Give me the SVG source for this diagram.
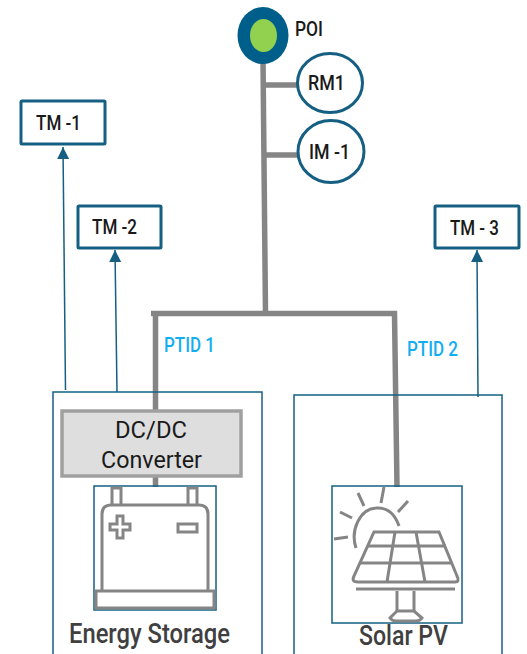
<svg xmlns="http://www.w3.org/2000/svg" width="527" height="654" viewBox="0 0 527 654">
<style>
text{font-family:Roboto,"Liberation Sans",sans-serif}
.bus{fill:none;stroke:#858585;stroke-width:5.5}
.tm rect{fill:#fff;stroke:#156082;stroke-width:3}
.tm text,.m text{font-size:21px;font-weight:500;fill:#1a1a1a}
.m .o{fill:#fff;stroke:#156082;stroke-width:3}
.sig{fill:none;stroke:#156082;stroke-width:1.5;marker-end:url(#a)}
.box{fill:none;stroke:#156082;stroke-width:1.5}
.ptid{font-size:20px;font-weight:500;fill:#12aef0}
.ic{fill:none;stroke:#858585;stroke-width:3}
.lbl{font-size:27px;font-weight:500;fill:#404040}
.dc{font-size:23px;fill:#1a1a1a}
</style>
<defs><marker id="a" markerUnits="userSpaceOnUse" markerWidth="13" markerHeight="13" refX="12" refY="6" orient="auto"><path d="M0 0L12 6L0 12Z" fill="#156082"/></marker></defs>
<g id="connectors">
<path class="bus" d="M263 60L265.500 313.500"/>
<path class="bus" d="M263 85H298M263.500 155H299"/>
<path class="bus" d="M151 313.500H394.500L397 487"/>
<path class="bus" d="M155.500 313.500V487"/>
<path class="sig" d="M65.500 390L63 147"/>
<path class="sig" d="M117 392L115 250"/>
<path class="sig" d="M478 397L477 250"/>
</g>
<g id="POI" class="m"><ellipse cx="263" cy="35.500" rx="25.500" ry="28.500" fill="#005f8a"/><ellipse cx="263.500" cy="35.500" rx="13.500" ry="16.500" fill="#92d050"/><text x="295" y="36" textLength="28" lengthAdjust="spacingAndGlyphs">POI</text></g>
<g id="RM1" class="m"><ellipse class="o" cx="330" cy="83" rx="32.500" ry="29.500"/><text x="308" y="90" textLength="37" lengthAdjust="spacingAndGlyphs">RM1</text></g>
<g id="IM1" class="m"><ellipse class="o" cx="331" cy="151.500" rx="33" ry="31"/><text x="309" y="159" textLength="41" lengthAdjust="spacingAndGlyphs">IM -1</text></g>
<g id="TM1" class="tm"><rect x="21" y="101" width="84" height="43" rx="1"/><text x="36" y="130" textLength="45" lengthAdjust="spacingAndGlyphs">TM -1</text></g>
<g id="TM2" class="tm"><rect x="78" y="206" width="83" height="42" rx="1"/><text x="92" y="234" textLength="45" lengthAdjust="spacingAndGlyphs">TM -2</text></g>
<g id="TM3" class="tm"><rect x="435" y="206" width="84" height="42" rx="1"/><text x="450" y="235" textLength="49" lengthAdjust="spacingAndGlyphs">TM - 3</text></g>
<text class="ptid" x="164" y="352" textLength="51" lengthAdjust="spacingAndGlyphs">PTID 1</text>
<text class="ptid" x="407" y="356" textLength="51" lengthAdjust="spacingAndGlyphs">PTID 2</text>
<g id="EnergyStorage">
<rect class="box" x="53" y="392" width="209" height="263"/>
<rect x="62" y="411" width="179" height="65" fill="#dedede" stroke="#a0a0a0" stroke-width="3.500"/>
<text class="dc" x="115" y="438" textLength="72" lengthAdjust="spacingAndGlyphs">DC/DC</text>
<text class="dc" x="101" y="468" textLength="101" lengthAdjust="spacingAndGlyphs">Converter</text>
<rect class="box" x="94" y="486" width="122" height="124"/>
<g class="ic">
<path d="M112 504V488H121V504M188 504V488H197V504"/>
<path d="M102 590V514Q102 505 111 505H199Q208 505 208 514V590"/>
<rect x="96" y="591" width="118" height="17"/>
<path d="M117 516H123V524H130V530H123V538H117V530H110V524H117Z"/>
<rect x="178" y="524" width="19" height="8"/>
</g>
<text class="lbl" x="69" y="643" textLength="161" lengthAdjust="spacingAndGlyphs">Energy Storage</text>
</g>
<g id="SolarPV">
<rect class="box" x="294" y="395" width="208" height="260"/>
<rect class="box" x="332" y="486" width="130" height="137"/>
<g class="ic">
<path d="M334 539L348 537M340 512L352 518M358 493L364 506M384 487L381 503M408 501L398 512"/>
<path d="M356 548C350 530 360 509 376 508C387 507 395 514 399 526"/>
<path d="M374 532H439L457 576Q460 582 455 582H358Q351 582 354 576Z"/>
<path d="M368 546H446M361 563H452M395 532L387 582M416 532L425 582"/>
<path d="M356 589H455"/>
<path d="M397 591V611M414 591V611"/>
<path d="M397 611L390 618Q392 621 396 621H416Q420 621 422 618L414 611Z"/>
</g>
<text class="lbl" x="359" y="645" textLength="89" lengthAdjust="spacingAndGlyphs">Solar PV</text>
</g>
</svg>
